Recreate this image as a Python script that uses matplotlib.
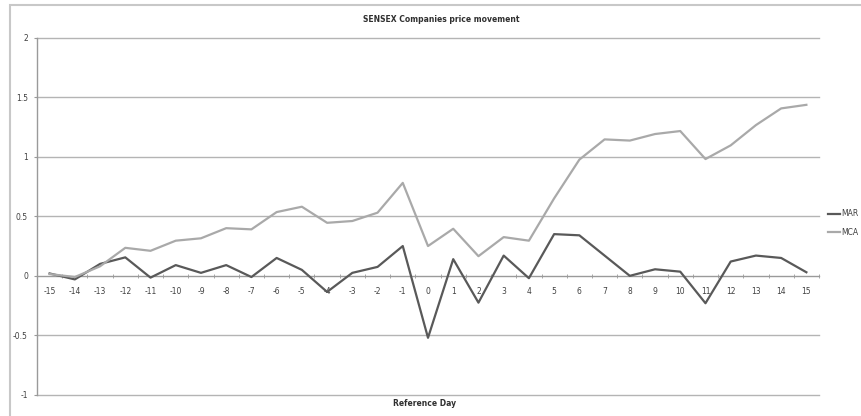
import matplotlib
matplotlib.use("Agg")
import matplotlib.pyplot as plt
from matplotlib import font_manager
from matplotlib.patches import Rectangle
from matplotlib.lines import Line2D

days = list(range(-15, 16))
mar = [0.02, -0.03, 0.10, 0.155, -0.015, 0.09, 0.025, 0.09, -0.01, 0.15,
       0.05, -0.135, 0.025, 0.075, 0.25, -0.52, 0.14, -0.225, 0.17, -0.02,
       0.35, 0.34, 0.17, 0.0, 0.055, 0.035, -0.23, 0.12, 0.17, 0.15, 0.03]
mca = [0.015, -0.01, 0.08, 0.235, 0.21, 0.295, 0.315, 0.40, 0.39, 0.535,
       0.58, 0.445, 0.46, 0.53, 0.78, 0.25, 0.395, 0.165, 0.325, 0.295,
       0.65, 0.975, 1.145, 1.135, 1.19, 1.215, 0.98, 1.095, 1.265, 1.405, 1.435]
series_names = ["MAR", "MCA"]
series_colors = ["#595959", "#a9a9a9"]
y_ticks = [-1, -0.5, 0, 0.5, 1, 1.5, 2]

installed = {f.name for f in font_manager.fontManager.ttflist}
FONT = "Liberation Sans Narrow" if "Liberation Sans Narrow" in installed else "DejaVu Sans"
plt.rcParams["font.family"] = [FONT, "DejaVu Sans"]

fig = plt.figure(figsize=(8.61, 4.16), dpi=100)
W, H = 861, 416

# outer chart border
fig.patches.append(Rectangle((10 / W, -0.05), 1.2, 1 - 5 / H + 0.05,
                             transform=fig.transFigure, fill=False,
                             edgecolor="#c8c8c8", linewidth=1.5))

ax = fig.add_axes([37 / W, 1 - 395 / H, (819 - 37) / W, (395 - 37.5) / H])

for y in y_ticks:
    if y != 0:
        ax.axhline(y, color="#b4b4b4", linewidth=1.0, zorder=1, clip_on=False)

for values, name, color in zip([mar, mca], series_names, series_colors):
    ax.plot(days, values, color=color, linewidth=1.6, label=name, zorder=3)

ax.set_xlim(-15.5, 15.5)
ax.set_ylim(-1, 2)
ax.set_yticks(y_ticks)
ax.set_yticklabels([f"{v:g}" for v in y_ticks])

for side in ["top", "right"]:
    ax.spines[side].set_visible(False)
ax.spines["left"].set_color("#9a9a9a")
ax.spines["left"].set_linewidth(1.0)
ax.spines["bottom"].set_position(("data", 0))
ax.spines["bottom"].set_color("#9a9a9a")
ax.spines["bottom"].set_linewidth(1.0)

ax.set_xticks(days)
ax.set_xticklabels([str(d) for d in days])
ax.set_xticks([d + 0.5 for d in range(-16, 16)], minor=True)
ax.tick_params(axis="x", which="major", length=0, pad=8, labelsize=5.5,
               labelcolor="#404040")
ax.tick_params(axis="x", which="minor", length=2.5, direction="inout",
               color="#9a9a9a")
ax.tick_params(axis="y", length=2.5, color="#9a9a9a", labelsize=5.5,
               labelcolor="#404040", pad=4)

fig.text(441 / W, 1 - 20 / H, "SENSEX Companies price movement",
         ha="center", va="center", fontsize=5.5, fontweight="bold",
         color="#303030")
fig.text(425 / W, 1 - 403 / H, "Reference Day", ha="center", va="center",
         fontsize=5.5, fontweight="bold", color="#303030")

handles = [Line2D([], [], color=c, linewidth=1.6) for c in series_colors]
fig.legend(handles, series_names, loc="center left",
           bbox_to_anchor=(823 / W, 1 - 223 / H), frameon=False,
           fontsize=5.5, handlelength=1.5, handletextpad=0.25,
           labelspacing=1.2, labelcolor="#404040", borderpad=0.2)

fig.savefig("out.png", dpi=100)
